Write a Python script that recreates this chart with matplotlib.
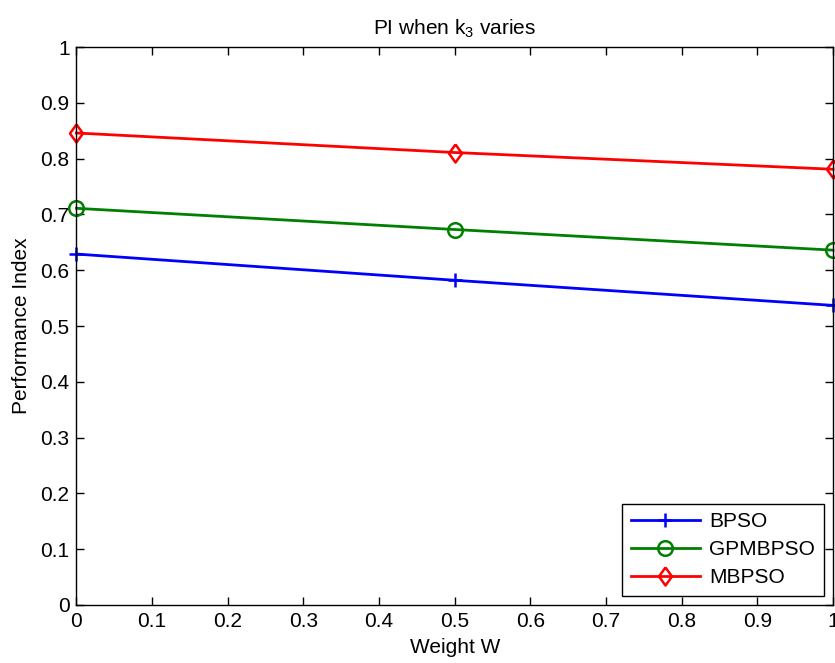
import matplotlib
matplotlib.use("Agg")
import matplotlib.pyplot as plt

# data
weights = [0.0, 0.5, 1.0]
bpso = [0.629, 0.582, 0.537]
gpmbpso = [0.711, 0.673, 0.636]
mbpso = [0.846, 0.811, 0.781]

plt.rcParams['font.family'] = ['Liberation Sans', 'DejaVu Sans']
plt.rcParams['mathtext.fontset'] = 'custom'
plt.rcParams['mathtext.rm'] = 'Liberation Sans'
plt.rcParams['mathtext.it'] = 'Liberation Sans'

FS = 15
# MATLAB-style diamond, a bit taller than wide
diamond = [(0, 1), (0.72, 0), (0, -1), (-0.72, 0), (0, 1)]

fig = plt.figure(figsize=(8.35, 6.63), dpi=100)
ax = fig.add_axes([0.0916, 0.0875, 0.906, 0.8415])

ax.plot(weights, bpso, color='#0000ff', lw=2, marker='+', ms=10, mew=1.8,
        label='BPSO', clip_on=False)
ax.plot(weights, gpmbpso, color='#008000', lw=2, marker='o', ms=10.5, mew=1.8,
        mfc='none', label='GPMBPSO', clip_on=False)
ax.plot(weights, mbpso, color='#ff0000', lw=2, marker=diamond, ms=13, mew=1.8,
        mfc='none', label='MBPSO', clip_on=False)

ax.set_xlim(0, 1)
ax.set_ylim(0, 1)
ticks = [i / 10 for i in range(11)]
labels = ['0'] + [f'{t:g}' for t in ticks[1:-1]] + ['1']
ax.set_xticks(ticks)
ax.set_yticks(ticks)
ax.set_xticklabels(labels)
ax.set_yticklabels(labels)
ax.tick_params(direction='in', length=6, width=1, top=True, right=True,
               labelsize=FS, pad=5)
for s in ax.spines.values():
    s.set_linewidth(1)

ax.set_xlabel('Weight W', fontsize=FS, labelpad=5)
ax.set_ylabel('Performance Index', fontsize=FS, labelpad=7)
ax.set_title('PI when k$_3$ varies', fontsize=FS, pad=9)

leg = ax.legend(loc='lower right', fontsize=FS, fancybox=False, framealpha=1,
                edgecolor='black', handlelength=3.3, borderaxespad=0.45,
                labelspacing=0.42, borderpad=0.42, handletextpad=0.45)
leg.get_frame().set_linewidth(1)

fig.savefig('out.png', dpi=100, facecolor='white')
